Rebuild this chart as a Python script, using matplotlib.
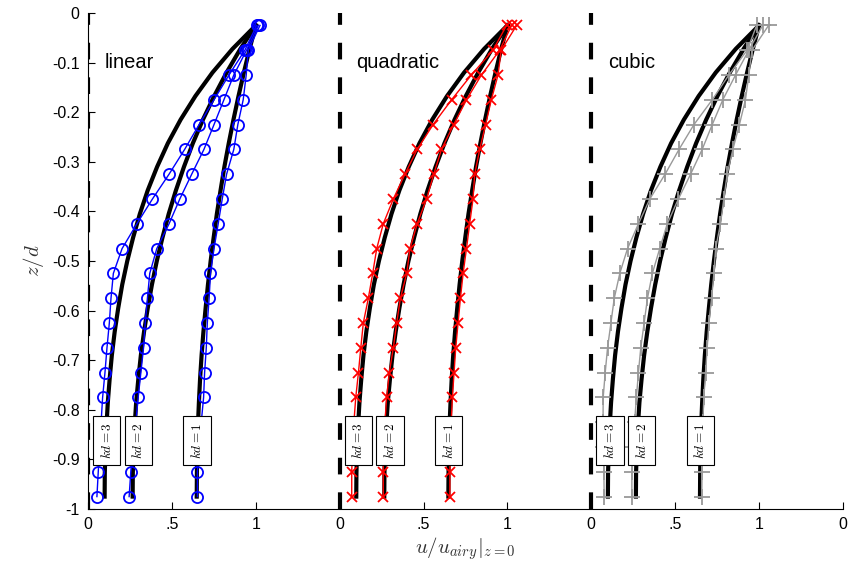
"""Velocity profiles: linear / quadratic / cubic vertical basis vs Airy theory."""
import matplotlib
matplotlib.use("Agg")
import matplotlib.pyplot as plt

plt.rcParams["font.family"] = ["Liberation Sans", "DejaVu Sans"]
plt.rcParams["mathtext.fontset"] = "cm"

# layer centres (z/d) where the model values sit
Z_NODES = [-0.025, -0.075, -0.125, -0.175, -0.225, -0.275, -0.325, -0.375, -0.425, -0.475,
           -0.525, -0.575, -0.625, -0.675, -0.725, -0.775, -0.825, -0.875, -0.925, -0.975]

# Airy reference (black)
Z_AIRY = [-0.025, -0.0725, -0.12, -0.1675, -0.215, -0.2625, -0.31, -0.3575, -0.405, -0.4525, -0.5,
          -0.5475, -0.595, -0.6425, -0.69, -0.7375, -0.785, -0.8325, -0.88, -0.9275, -0.975]
AIRY_KD1 = [1.000, 0.963, 0.929, 0.897, 0.867, 0.839, 0.813, 0.790, 0.768, 0.749, 0.731,
            0.715, 0.701, 0.688, 0.677, 0.668, 0.661, 0.655, 0.651, 0.649, 0.648]
AIRY_KD2 = [1.000, 0.908, 0.826, 0.752, 0.685, 0.625, 0.572, 0.524, 0.481, 0.444, 0.410,
            0.381, 0.356, 0.334, 0.315, 0.300, 0.287, 0.278, 0.271, 0.267, 0.266]
AIRY_KD3 = [1.000, 0.861, 0.742, 0.640, 0.552, 0.476, 0.412, 0.356, 0.309, 0.269, 0.234,
            0.204, 0.180, 0.159, 0.142, 0.129, 0.118, 0.110, 0.104, 0.100, 0.099]

LIN_KD3 = [1.005, 0.935, 0.840, 0.751, 0.662, 0.576, 0.483, 0.384, 0.291, 0.203,
           0.151, 0.137, 0.127, 0.113, 0.101, 0.087, 0.078, 0.069, 0.061, 0.053]
LIN_KD2 = [1.015, 0.945, 0.869, 0.810, 0.751, 0.691, 0.618, 0.547, 0.483, 0.410,
           0.368, 0.354, 0.341, 0.331, 0.315, 0.299, 0.285, 0.270, 0.255, 0.245]
LIN_KD1 = [1.025, 0.955, 0.943, 0.925, 0.893, 0.869, 0.826, 0.800, 0.776, 0.751,
           0.730, 0.722, 0.711, 0.705, 0.695, 0.689, 0.675, 0.662, 0.652, 0.652]

QUAD_KD3 = [0.995, 0.914, 0.785, 0.667, 0.557, 0.462, 0.389, 0.320, 0.260, 0.221,
            0.197, 0.171, 0.141, 0.126, 0.112, 0.096, 0.085, 0.077, 0.072, 0.072]
QUAD_KD2 = [1.025, 0.954, 0.845, 0.756, 0.680, 0.607, 0.561, 0.518, 0.462, 0.419,
            0.400, 0.362, 0.340, 0.320, 0.296, 0.280, 0.270, 0.262, 0.260, 0.260]
QUAD_KD1 = [1.055, 0.963, 0.944, 0.904, 0.870, 0.835, 0.805, 0.795, 0.775, 0.756,
            0.736, 0.720, 0.706, 0.692, 0.682, 0.672, 0.665, 0.660, 0.657, 0.657]

CUB_KD3 = [0.986, 0.929, 0.820, 0.721, 0.612, 0.523, 0.440, 0.349, 0.281, 0.216,
           0.170, 0.137, 0.117, 0.097, 0.083, 0.071, 0.070, 0.072, 0.075, 0.077]
CUB_KD2 = [1.022, 0.939, 0.860, 0.784, 0.721, 0.661, 0.592, 0.519, 0.453, 0.408,
           0.364, 0.335, 0.315, 0.295, 0.281, 0.269, 0.258, 0.250, 0.242, 0.242]
CUB_KD1 = [1.057, 0.958, 0.939, 0.919, 0.883, 0.844, 0.810, 0.790, 0.770, 0.741,
           0.731, 0.717, 0.701, 0.691, 0.681, 0.671, 0.665, 0.660, 0.658, 0.658]

PANELS = ["linear", "quadratic", "cubic"]
OFFSETS = [0.0, 1.5, 3.0]
KD_LABELS = ["$kd = 3$", "$kd = 2$", "$kd = 1$"]
LABEL_X = [0.112, 0.300, 0.650]
XTICKS = [0, 0.5, 1, 1.5, 2, 2.5, 3, 3.5, 4, 4.5]
XTICKLABELS = ["0", ".5", "1", "0", ".5", "1", "0", ".5", "1", "0"]
YTICKS = [0, -0.1, -0.2, -0.3, -0.4, -0.5, -0.6, -0.7, -0.8, -0.9, -1]
YTICKLABELS = ["0", "-0.1", "-0.2", "-0.3", "-0.4", "-0.5", "-0.6", "-0.7", "-0.8", "-0.9", "-1"]

STYLES = [
    dict(color="blue", marker="o", ms=8, mfc="none", mew=1.3, lw=1.0),
    dict(color="red", marker="x", ms=7, mew=1.3, lw=1.0),
    dict(color="#999999", marker="+", ms=11, mew=1.3, lw=1.0),
]
MODELS = [(LIN_KD3, LIN_KD2, LIN_KD1), (QUAD_KD3, QUAD_KD2, QUAD_KD1),
          (CUB_KD3, CUB_KD2, CUB_KD1)]
AIRY = [AIRY_KD3, AIRY_KD2, AIRY_KD1]

fig = plt.figure(figsize=(8.48, 5.78), dpi=100)
ax = fig.add_axes([0.1038, 0.1194, 0.8902, 0.8581])

for name, off, series, sty in zip(PANELS, OFFSETS, MODELS, STYLES):
    ax.axvline(off, color="black", lw=3, linestyle=(0, (4.0, 4.3)), zorder=2)
    for ref in AIRY:
        ax.plot([off + u for u in ref], Z_AIRY, color="black", lw=3, zorder=3)
    for vals in series:
        ax.plot([off + u for u in vals], Z_NODES, zorder=4, **sty)
    ax.text(off + 0.10, -0.10, name, fontsize=14.5, ha="left", va="center")
    for lab, lx in zip(KD_LABELS, LABEL_X):
        ax.text(off + lx, -0.862, lab, rotation=90, fontsize=9.5, ha="center", va="center",
                zorder=6, bbox=dict(boxstyle="square,pad=0.5", fc="white", ec="black", lw=0.8))

ax.set_xlim(0, 4.5)
ax.set_ylim(-1, 0)
ax.set_xticks(XTICKS)
ax.set_xticklabels(XTICKLABELS)
ax.set_yticks(YTICKS)
ax.set_yticklabels(YTICKLABELS)
ax.tick_params(direction="in", length=5, width=0.8, labelsize=11.5, pad=6)
for s in ["top", "right"]:
    ax.spines[s].set_visible(False)
ax.set_xlabel("$u/u_{airy}|_{z=0}$", fontsize=15, color="#333333", labelpad=2)
ax.set_ylabel("$z/d$", fontsize=15, color="#333333", labelpad=4)

fig.savefig("out.png", dpi=100)
